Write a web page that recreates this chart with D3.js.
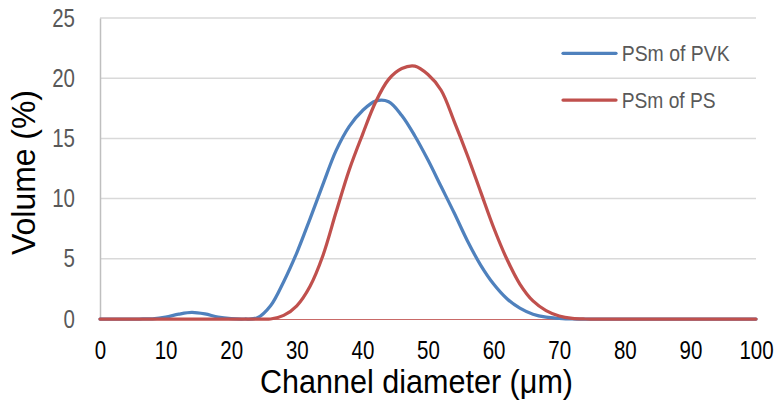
<!DOCTYPE html>
<html>
    <head>
        <script src="https://d3js.org/d3.v7.min.js"></script>
        <style>
          body { margin: 0; background: #ffffff; }
          #chart { width: 778px; height: 404px; position: relative; }
          text { font-family: "Liberation Sans", Arial, sans-serif; }
        </style>
    </head>
    <body>
        <div id="chart"></div>
        <script>

            /* DATA */
            var diameters = [0, 2, 4, 6, 8, 10, 12, 14, 16, 18, 20, 22, 24, 26, 28, 30, 32, 34, 36, 38,
                             40, 42, 44, 46, 48, 50, 52, 54, 56, 58, 60, 62, 64, 66, 68, 70, 72, 74, 76, 78,
                             80, 82, 84, 86, 88, 90, 92, 94, 96, 98, 100];
            var pvk = [0, 0, 0, 0, 0.02, 0.15, 0.4, 0.55, 0.42, 0.15, 0.03, 0, 0.1, 1.1, 3.1, 5.5, 8.3, 11.2, 14.0, 16.0,
                       17.3, 18.1, 18.05, 16.9, 15.2, 13.2, 11.0, 8.8, 6.5, 4.5, 2.9, 1.7, 0.9, 0.4, 0.15, 0.05, 0, 0, 0, 0,
                       0, 0, 0, 0, 0, 0, 0, 0, 0, 0, 0];
            var ps = [0, 0, 0, 0, 0, 0, 0, 0, 0, 0, 0, 0, 0, 0, 0.3, 1.1, 2.7, 5.3, 8.9, 12.4,
                      15.3, 18.0, 19.9, 20.8, 21.0, 20.3, 19.0, 16.4, 13.6, 10.6, 7.6, 5.0, 2.9, 1.5, 0.7, 0.25, 0.05, 0, 0, 0,
                      0, 0, 0, 0, 0, 0, 0, 0, 0, 0, 0];
            var seriesNames = ["PSm of PVK", "PSm of PS"];
            var seriesColors = ["#4f81bd", "#c0504d"];
            var xTicks = [0, 10, 20, 30, 40, 50, 60, 70, 80, 90, 100];
            var yTicks = [0, 5, 10, 15, 20, 25];

            /* SVG */
            var width = 778, height = 404;
            var narrow = 0.82;
            var svg = d3.select("#chart")
                .append("svg")
                .attr("width", width)
                .attr("height", height);

            var x = d3.scaleLinear().domain([0, 100]).range([100, 756]);
            var y = d3.scaleLinear().domain([0, 25]).range([319, 18]);

            /* GRIDLINES */
            svg.append("g")
                .selectAll("line")
                .data(yTicks.filter(function(d) { return d > 0; }))
                .enter()
                .append("line")
                    .attr("x1", x(0))
                    .attr("x2", x(100))
                    .attr("y1", function(d) { return y(d); })
                    .attr("y2", function(d) { return y(d); })
                    .attr("stroke", "#d9d9d9")
                    .attr("stroke-width", 1.5);

            /* Y AXIS */
            var yAxis = svg.append("g")
                .attr("transform", "translate(" + x(0) + ",0)")
                .call(d3.axisLeft(y).tickValues(yTicks).tickSize(0));
            yAxis.select(".domain").attr("stroke", "#bfbfbf").attr("stroke-width", 1.5);
            yAxis.selectAll("text")
                .attr("x", -25 / narrow)
                .attr("transform", "scale(" + narrow + ",1)")
                .attr("fill", "#595959")
                .style("font-size", "25px");

            /* X AXIS */
            var xAxis = svg.append("g")
                .attr("transform", "translate(0," + y(0) + ")")
                .call(d3.axisBottom(x).tickValues(xTicks).tickSize(0).tickPadding(22));
            xAxis.select(".domain").attr("stroke", "#c0504d").attr("stroke-width", 1).attr("stroke-opacity", 0.85);
            xAxis.selectAll("text")
                .attr("transform", "scale(" + narrow + ",1)")
                .attr("fill", "#000000")
                .style("font-size", "25px");

            /* LINES */
            var series = [pvk, ps];
            var line = d3.line()
                .x(function(d, i) { return x(diameters[i]); })
                .y(function(d) { return y(d); })
                .curve(d3.curveCatmullRom.alpha(0.5));

            svg.append("g")
                .selectAll("path")
                .data(series)
                .enter()
                .append("path")
                    .attr("d", line)
                    .attr("fill", "none")
                    .attr("stroke", function(d, i) { return seriesColors[i]; })
                    .attr("stroke-width", 3.25)
                    .attr("stroke-linejoin", "round")
                    .attr("stroke-linecap", "round");

            /* AXIS TITLES */
            svg.append("text")
                .attr("x", 416.5)
                .attr("y", 393)
                .attr("text-anchor", "middle")
                .attr("textLength", 313)
                .attr("lengthAdjust", "spacingAndGlyphs")
                .style("font-size", "33px")
                .attr("fill", "#000000")
                .text("Channel diameter (μm)");

            svg.append("text")
                .attr("transform", "translate(35,172.5) rotate(-90)")
                .attr("text-anchor", "middle")
                .attr("textLength", 165)
                .attr("lengthAdjust", "spacingAndGlyphs")
                .style("font-size", "34px")
                .attr("fill", "#000000")
                .text("Volume (%)");

            /* LEGEND */
            var legendWidths = [108, 94];
            var legend = svg.append("g")
                .selectAll("g")
                .data(seriesNames)
                .enter()
                .append("g")
                    .attr("transform", function(d, i) { return "translate(563," + (53.3 + i * 46.7) + ")"; });

            legend.append("line")
                .attr("x1", 0)
                .attr("x2", 53)
                .attr("stroke", function(d, i) { return seriesColors[i]; })
                .attr("stroke-width", 3.25)
                .attr("stroke-linecap", "round");

            legend.append("text")
                .attr("x", 58.7)
                .attr("y", 7.7)
                .attr("textLength", function(d, i) { return legendWidths[i]; })
                .attr("lengthAdjust", "spacingAndGlyphs")
                .style("font-size", "22px")
                .attr("fill", "#595959")
                .text(function(d) { return d; });

        </script>
    </body>
</html>
